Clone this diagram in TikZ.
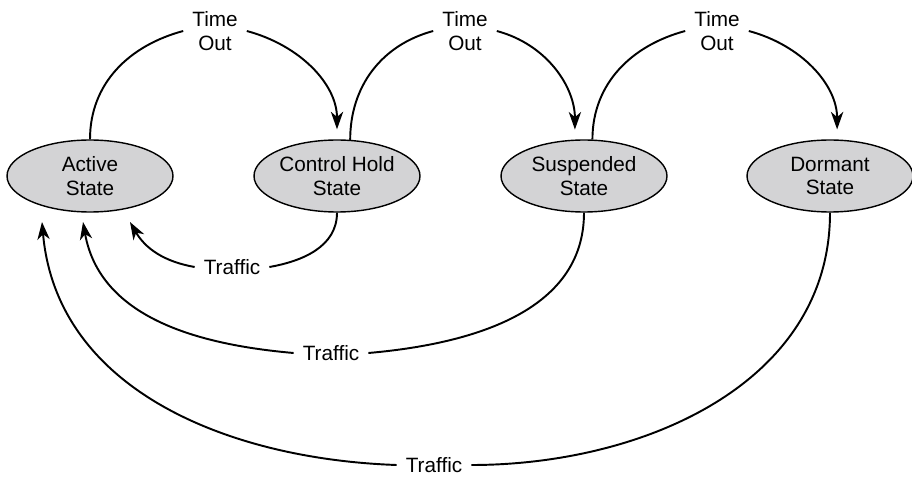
\documentclass[tikz,border=0pt]{standalone}
\usepackage{fontspec}
\setmainfont{Liberation Sans}
\usetikzlibrary{arrows.meta,shapes.geometric}
\definecolor{stategray}{RGB}{211,211,213}
\tikzset{>={Stealth[length=10pt,width=7pt,inset=3pt]},every node/.style={font=\fontsize{11.8}{13.6}\selectfont,align=center},
state/.style={ellipse,draw,line width=.8pt,fill=stategray,minimum width=3.32cm,minimum height=1.44cm,inner sep=0pt},
lbl/.style={inner sep=5pt},edge/.style={line width=1.1pt},flow/.style={edge,->}}
\begin{document}
\begin{tikzpicture}[x=.02cm,y=.02cm]
\useasboundingbox (0,0) rectangle (912,477);
\foreach \n/\x/\t in {act/90/Active,hold/337/Control Hold,susp/584/Suspended,dorm/830/Dormant}{\node[state] (\n) at (\x,301){\t\\State};}
\foreach \n/\x in {t1/215,t2/465,t3/717}{\node[lbl] (\n) at (\x,446){Time\\Out};}
\node[lbl] (r1) at (232,210){Traffic};\node[lbl] (r2) at (331,124){Traffic};\node[lbl] (r3) at (434,12){Traffic};
\coordinate (a1) at (130,255);\coordinate (a2) at (83,255);\coordinate (a3) at (42,255);
% time out
\draw[edge] (act.north) to[out=90,in=195] (t1.west);\draw[flow,shorten >=.2cm] (t1.east) to[out=-15,in=90] (hold.north);
\draw[edge] (hold.70) to[out=90,in=195] (t2.west);\draw[flow,shorten >=.2cm] (t2.east) to[out=-15,in=90] (susp.104);
\draw[edge] (susp.77) to[out=90,in=195] (t3.west);\draw[flow,shorten >=.2cm] (t3.east) to[out=-15,in=90] (dorm.79);
% traffic
\draw[edge] (hold.south) to[out=270,in=10] (r1.east);\draw[flow] (r1.west) to[out=170,in=-60] (a1);
\draw[edge] (susp.south) to[out=270,in=5] (r2.east);\draw[flow] (r2.west) to[out=175,in=-80] (a2);
\draw[edge] (dorm.south) to[out=270,in=0] (r3.east);\draw[flow] (r3.west) to[out=178,in=-85] (a3);
\end{tikzpicture}
\end{document}
